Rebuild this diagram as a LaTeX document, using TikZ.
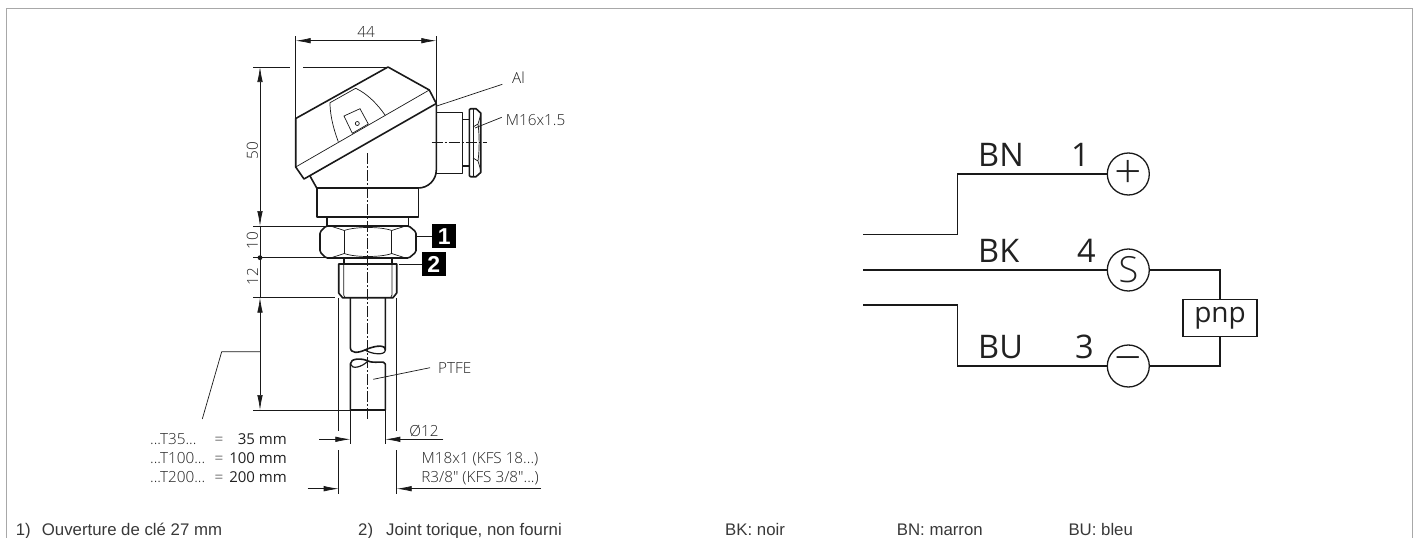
\documentclass[tikz,border=0pt]{standalone}
\usepackage{fontspec}
\setmainfont{Open Sans}[UprightFont={* Light},BoldFont={Open Sans}]
\newfontfamily\regf{Open Sans}
\newfontfamily\footf{Liberation Sans}
\newfontfamily\keyf{Liberation Sans}
\newcommand{\fsz}[1]{\fontsize{#1}{#1}\selectfont}
\definecolor{ink}{gray}{0.1}
\definecolor{txt}{gray}{0.13}
\definecolor{foottxt}{gray}{0.22}
\definecolor{framec}{gray}{0.66}
\tikzset{
  thick line/.style={draw=ink,line width=1.6pt,line join=round},
  thin line/.style={draw=ink,line width=0.7pt},
  center line/.style={draw=ink,line width=0.6pt,dash pattern=on 11pt off 2pt on 2pt off 2pt},
  dim/.style={draw=ink,line width=0.7pt,{Latex[length=15pt,width=5.5pt]}-{Latex[length=15pt,width=5.5pt]}},
  tipend/.style={draw=ink,line width=0.7pt,-{Latex[length=15pt,width=5.5pt]}},
  lbl/.style={inner sep=0pt,text=txt,font=\fsz{15.3}},
  lblb/.style={inner sep=0pt,text=txt,anchor=base east,font=\regf\fsz{15}},
  foot/.style={inner sep=0pt,anchor=base west,text=foottxt,font=\footf\fsz{16.8}},
  keybox/.style={fill=black,text=white,minimum width=24pt,minimum height=24pt,inner sep=0pt,font=\keyf\bfseries\fsz{23}},
  wire/.style={draw=ink,line width=1.3pt},
  pin/.style={circle,draw=ink,line width=1.3pt,minimum size=42pt,inner sep=0pt,text=txt},
  big/.style={inner sep=0pt,anchor=base west,text=txt,font=\regf\fsz{32.5}},
  bign/.style={inner sep=0pt,anchor=base east,text=txt,font=\regf\fsz{32.5}},
}
\usetikzlibrary{arrows.meta}
\begin{document}
\begin{tikzpicture}[x=1pt,y=-1pt]
\useasboundingbox (0,0) rectangle (1417,538);
\draw[framec,line width=1.4pt] (6.5,538) -- (6.5,8.6) -- (1412.3,8.6) -- (1412.3,538);
% extension lines and dims
\coordinate (hl) at (295.7,118.5); \coordinate (hr) at (436.3,104);
\coordinate (d44l) at (295.7,36); \coordinate (d44r) at (436.3,36);
\draw[thin line] (d44l) -- (hl);
\draw[thin line] (d44r) -- (hr);
\coordinate (a44l) at (295.7,40.7); \coordinate (a44r) at (436.3,40.7);
\draw[dim] (a44l) -- node[lbl,above=3pt] {44} (a44r);
\coordinate (e1) at (253,67); \coordinate (e1b) at (290,67); \coordinate (e1c) at (303,67); \coordinate (top) at (388,67);
\draw[thin line] (e1) -- (e1b) (e1c) -- (top);
\coordinate (e2) at (253,226); \coordinate (e2b) at (327,226);
\draw[thin line] (e2) -- (e2b);
\coordinate (e3) at (253,257.7); \coordinate (e3b) at (326,257.7);
\draw[thin line] (e3) -- (e3b);
\coordinate (e4) at (253,297.7); \coordinate (e4b) at (335,297.7);
\draw[thin line] (e4) -- (e4b);
\coordinate (e5) at (253,410); \coordinate (e5b) at (350.3,410);
\draw[thin line] (e5) -- (e5b);
\coordinate (a50t) at (260,67); \coordinate (a50b) at (260,226);
\draw[dim] (a50t) -- (a50b);
\node[lbl,rotate=90] (t50) at (252.5,151) {50};
\coordinate (v1) at (260,226); \coordinate (v2) at (260,297.7);
\draw[thin line] (v1) -- (v2);
\fill[ink] (e3 -| v1) circle (2.4pt);
\node[lbl,rotate=90] (t10) at (252.5,241) {10};
\node[lbl,rotate=90] (t12) at (252.5,277) {12};
\coordinate (a35t) at (260,297.7); \coordinate (a35b) at (260,410);
\draw[dim] (a35t) -- (a35b);
\coordinate (l1) at (260,351.7); \coordinate (l2) at (221.7,351.7); \coordinate (l3) at (202.3,419);
\draw[thin line] (l1) -- (l2) -- (l3);
% head
\draw[thick line] (295.7,118.5) -- (388,67) -- (429.3,90) -- (436.3,103.5) -- (304,179) -- (295.7,167) -- cycle;
\draw[thin line] (295.7,167) -- (429.3,90);
\draw[thin line] (338.3,141.7) .. controls (332,125) and (330,112) .. (330,102.7) -- (355.7,88.3) .. controls (368,94) and (378,105) .. (385,115);
\draw[thin line] (344,116) -- (360,108.7) -- (368.3,124) -- (352.3,133.3) -- cycle;
\draw[thin line] (357.3,123.5) circle (2pt);
\draw[thick line] (310,176) -- (316.7,188) -- (418.3,188) arc[start angle=90,end angle=0,radius=18] -- (436.3,104);
\draw[thick line] (316.7,188) rectangle (418.3,216.7);
\draw[thick line] (327,216.7) -- (327,226) (408.3,216.7) -- (408.3,226);
% gland
\draw[thick line] (436.3,112.3) -- (462.3,112.3) -- (462.3,173.3) -- (436.3,173.3);
\draw[thick line] (462.3,119.3) -- (469.3,119.3) (462.3,166) -- (469.3,166);
\draw[thick line] (469.3,110) -- (470.5,108.7) -- (476,108.7) -- (480.7,113) -- (480.7,172.5) -- (476,176.7) -- (470.5,176.7) -- (469.3,175.5) -- cycle;
\draw[thin line] (473,109) -- (473,176.5);
\draw[thin line] (473,127) -- (478,124) -- (480.7,115) (478,124) .. controls (479.5,135) and (479.5,150) .. (478,161) -- (473,158) (478,161) -- (480.7,170);
% hex nut
\draw[thick line,rounded corners=1.5pt] (326,226) -- (409,226) -- (416,232) -- (416,252) -- (409,258) -- (326,258) -- (320,252) -- (320,232) -- cycle;
\draw[thin line] (332,226.5) -- (344.3,230.5) .. controls (355,226.5) and (381,226.5) .. (391.7,230.5) -- (404,226.5);
\draw[thin line] (332,257.5) -- (344.3,253.5) .. controls (355,257.5) and (381,257.5) .. (391.7,253.5) -- (404,257.5);
\draw[thin line] (344.3,230.5) -- (344.3,253.5) (391.7,230.5) -- (391.7,253.5);
% thread
\draw[thick line] (343.7,258) -- (343.7,264) (392,258) -- (392,264);
\draw[thick line] (338.7,264) -- (396.7,264) -- (396.7,293) -- (393,297.7) -- (342.5,297.7) -- (338.7,293) -- cycle;
\draw[thin line] (343.7,264) -- (343.7,295) -- (345,297.5) (392,264) -- (392,295) -- (390.7,297.5);
% rod
\draw[thick line] (350.3,297.7) -- (350.3,347) .. controls (350.3,354) and (358,353) .. (365,350) .. controls (371,347) and (385.3,343) .. (385.3,350) -- (385.3,297.7);
\draw[line width=1.2pt,ink] (365,350) .. controls (371,354) and (385.3,356) .. (385.3,350);
\draw[thick line] (350.3,410) -- (350.3,364) .. controls (350.3,358) and (362,358) .. (368,361) .. controls (374,364) and (385.3,360) .. (385.3,364) -- (385.3,410) -- cycle;
\draw[line width=1.2pt,ink] (350.3,364) .. controls (352,370) and (362,367) .. (368,361);
% centre lines
\coordinate (c1) at (367.7,153); \coordinate (c2) at (367.7,419.3);
\draw[center line] (c1) -- (c2);
\coordinate (c3) at (431.7,142.7); \coordinate (c4) at (486.7,142.7);
\draw[center line] (c3) -- (c4);
% thread ext lines
\coordinate (x1a) at (338.7,298); \coordinate (x1b) at (338.7,431); \coordinate (x1c) at (338.7,450); \coordinate (x1d) at (338.7,494);
\coordinate (x2a) at (396.7,298); \coordinate (x2b) at (396.7,431); \coordinate (x2c) at (396.7,450); \coordinate (x2d) at (396.7,494);
\draw[thin line] (x1a) -- (x1b) (x1c) -- (x1d) (x2a) -- (x2b) (x2c) -- (x2d);
\coordinate (y1a) at (350.3,410); \coordinate (y1b) at (350.3,444); \coordinate (y2a) at (385.3,410); \coordinate (y2b) at (385.3,444);
\draw[thin line] (y1a) -- (y1b) (y2a) -- (y2b);
\coordinate (d12a) at (319,439.3); \coordinate (d12b) at (350.3,439.3); \coordinate (d12c) at (443.3,439.3); \coordinate (d12d) at (385.3,439.3);
\draw[tipend] (d12a) -- (d12b);
\draw[tipend] (d12c) -- (d12d);
\node[lbl] (o12) at (424,431) {Ø12};
\coordinate (dMa) at (307.7,488.7); \coordinate (dMb) at (338.7,488.7); \coordinate (dMc) at (541,488.7); \coordinate (dMd) at (396.7,488.7);
\draw[tipend] (dMa) -- (dMb);
\draw[tipend] (dMc) -- (dMd);
\node[lbl] (m18) at (480,459.5) {M18x1 (KFS 18...)};
\node[lbl] (r38) at (480,478.5) {R3/8″ (KFS 3/8″...)};
% labels
\node[lbl,anchor=west] (al) at (512,78) {Al};
\coordinate (alp) at (436.8,106);
\draw[thin line] (alp) -- (502.3,84.3);
\node[lbl,anchor=west] (m16) at (505.7,120) {M16x1.5};
\coordinate (m16p) at (475,128);
\draw[thin line] (m16p) -- (501.7,117.3);
\node[lbl,anchor=west] (ptfe) at (438,368) {PTFE};
\coordinate (ptp) at (373.3,379.3);
\draw[thin line] (ptp) -- (430,367.7);
\node[keybox] (k1) at (444.3,236.3) {1};
\node[keybox] (k2) at (433.7,264.2) {2};
\coordinate (k1p) at (416,236.3); \coordinate (k2p) at (399.3,264.2);
\draw[line width=1.2pt,ink] (k1p) -- (k1);
\draw[line width=1pt,ink] (k2p) -- (k2);
% length table
\node[lbl,anchor=base west] (ta) at (150,444) {...T35...};
\node[lbl,anchor=base west] (tb) at (150,463) {...T100...};
\node[lbl,anchor=base west] (tc) at (150,482) {...T200...};
\node[lbl,anchor=base] (qa) at (219,444) {=};
\node[lbl,anchor=base] (qb) at (219,463) {=};
\node[lbl,anchor=base] (qc) at (219,482) {=};
\node[lblb] (va) at (287,444) {35 mm};
\node[lblb] (vb) at (287,463) {100 mm};
\node[lblb] (vc) at (287,482) {200 mm};
% footer
\node[foot] (f1) at (15.7,535) {1)};
\node[foot] (f1b) at (41.7,535) {Ouverture de clé 27 mm};
\node[foot] (f2) at (358,535) {2)};
\node[foot] (f2b) at (386,535) {Joint torique, non fourni};
\node[foot] (f3) at (725,535) {BK: noir};
\node[foot] (f4) at (896.7,535) {BN: marron};
\node[foot] (f5) at (1068.3,535) {BU: bleu};
% schematic
\node[pin,font=\fsz{48}] (p1) at (1128.3,174) {+};
\node[pin,font=\fsz{36}] (pS) at (1128.3,270) {S};
\node[pin,font=\fsz{48}] (p3) at (1128.3,366) {−};
\node[draw=ink,line width=1.3pt,inner sep=0pt,text=txt,font=\regf\fsz{28},minimum width=74pt,minimum height=37.5pt] (pnp) at (1220,318) {pnp};
\coordinate (w1) at (863.3,234.3); \coordinate (w2) at (957.7,234.3); \coordinate (w3) at (957.7,174);
\draw[wire] (w1) -- (w2) -- (w3) -- (p1);
\coordinate (w4) at (863.3,270);
\draw[wire] (w4) -- (pS);
\coordinate (w5) at (863.3,305); \coordinate (w6) at (957.7,305); \coordinate (w7) at (957.7,366);
\draw[wire] (w5) -- (w6) -- (w7) -- (p3);
\coordinate (w8) at (1220,270); \coordinate (w9) at (1220,366);
\draw[wire] (pS) -- (w8) -- (pnp);
\draw[wire] (pnp) -- (w9) -- (p3);
\node[big] (bn) at (978,166.7) {BN};
\node[big] (bk) at (978,262.7) {BK};
\node[big] (bu) at (978,358.3) {BU};
\node[bign] (n1) at (1090,166.7) {1};
\node[bign] (n4) at (1096,262.7) {4};
\node[bign] (n3) at (1094,358.3) {3};
\end{tikzpicture}
\end{document}
